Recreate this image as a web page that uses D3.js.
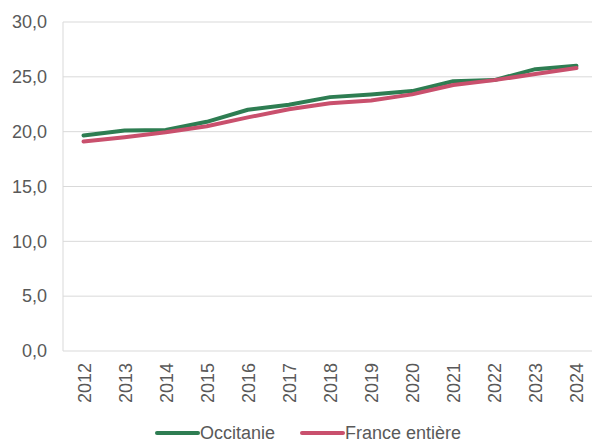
<!DOCTYPE html>
<html>
<head>
<meta charset="utf-8">
<script src="https://cdn.jsdelivr.net/npm/d3@7"></script>
<style>
  body { margin: 0; background: #fff; }
  text { font-family: "Liberation Sans", Arial, sans-serif; fill: #595959; }
</style>
</head>
<body>
<svg id="chart" width="592" height="441"></svg>
<script>
// Data
const years = ["2012", "2013", "2014", "2015", "2016", "2017", "2018", "2019", "2020", "2021", "2022", "2023", "2024"];
const occitanie = [19.65, 20.1, 20.15, 20.9, 22.0, 22.45, 23.15, 23.4, 23.7, 24.6, 24.7, 25.7, 26.0];
const france = [19.1, 19.5, 19.95, 20.5, 21.3, 22.05, 22.6, 22.85, 23.4, 24.25, 24.7, 25.25, 25.8];
const yTicks = [0, 5, 10, 15, 20, 25, 30];

const series = [
  { name: "Occitanie", values: occitanie, color: "#2e7d52" },
  { name: "France entière", values: france, color: "#c9506d" }
];

const svg = d3.select("#chart");
const margin = { left: 63, top: 22, right: -5, bottom: 90 };
const width = 592, height = 441;
const fontSize = 18;

const x = d3.scaleBand()
  .domain(years)
  .range([margin.left, width - margin.right]);

const y = d3.scaleLinear()
  .domain([0, 30])
  .range([351, margin.top]);

// Gridlines
svg.append("g")
  .selectAll("line")
  .data(yTicks)
  .enter()
  .append("line")
  .attr("x1", margin.left)
  .attr("x2", width - margin.right)
  .attr("y1", (d) => y(d))
  .attr("y2", (d) => y(d))
  .attr("stroke", "#d9d9d9")
  .attr("stroke-width", 1);

// Left axis line
svg.append("line")
  .attr("x1", margin.left)
  .attr("x2", margin.left)
  .attr("y1", y(30))
  .attr("y2", y(0))
  .attr("stroke", "#d9d9d9");

// Y labels
const fmt = (d) => d3.format(".1f")(d).replace(".", ",");
svg.append("g")
  .selectAll("text")
  .data(yTicks)
  .enter()
  .append("text")
  .attr("x", 47)
  .attr("y", (d) => y(d))
  .attr("dy", "0.35em")
  .attr("text-anchor", "end")
  .attr("font-size", fontSize)
  .text(fmt);

// X labels (rotated)
svg.append("g")
  .selectAll("text")
  .data(years)
  .enter()
  .append("text")
  .attr("transform", (d) => `translate(${x(d) + x.bandwidth() / 2 + 7},363) rotate(-90)`)
  .attr("text-anchor", "end")
  .attr("font-size", fontSize)
  .text((d) => d);

// Lines
const line = d3.line()
  .x((d, i) => x(years[i]) + x.bandwidth() / 2)
  .y((d) => y(d));

svg.append("g")
  .selectAll("path")
  .data(series)
  .enter()
  .append("path")
  .attr("d", (d) => line(d.values))
  .attr("fill", "none")
  .attr("stroke", (d) => d.color)
  .attr("stroke-width", 4)
  .attr("stroke-linejoin", "round")
  .attr("stroke-linecap", "round");

// Legend
const legendX = [157, 302];
const legend = svg.append("g")
  .selectAll("g")
  .data(series)
  .enter()
  .append("g")
  .attr("transform", (d, i) => `translate(${legendX[i]},433)`);

legend.append("line")
  .attr("x1", 0)
  .attr("x2", 41)
  .attr("stroke", (d) => d.color)
  .attr("stroke-width", 4)
  .attr("stroke-linecap", "round");

legend.append("text")
  .attr("x", 43)
  .attr("dy", "0.35em")
  .attr("font-size", fontSize)
  .text((d) => d.name);
</script>
</body>
</html>
